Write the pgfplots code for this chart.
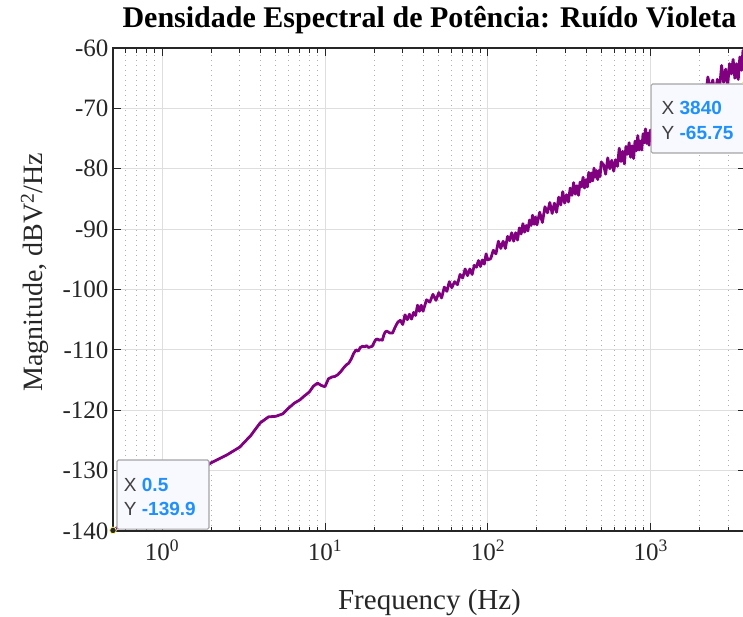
\documentclass[border=0pt]{standalone}
\usepackage{fontspec}
\setmainfont{Liberation Serif}
\newfontfamily\tipfont{Liberation Sans}
\usepackage{pgfplots}
\pgfplotsset{compat=1.18}
\definecolor{violeta}{RGB}{128,0,128}
\definecolor{tipblue}{RGB}{30,144,255}
\definecolor{tipgray}{RGB}{64,64,64}
\definecolor{axgray}{RGB}{38,38,38}
\definecolor{gridgray}{RGB}{222,222,222}
\definecolor{minorgray}{RGB}{175,175,175}
\definecolor{tipfill}{RGB}{248,248,255}
\definecolor{tipedge}{RGB}{165,165,165}
\begin{document}
\begin{tikzpicture}
\useasboundingbox (-113pt,-85pt) rectangle (630pt,531pt);
\begin{axis}[
  at={(0pt,0pt)}, anchor=south west,
  scale only axis, width=633pt, height=483pt,
  xmode=log, xmin=0.5, xmax=3840, ymin=-140, ymax=-60,
  ytick={-140,-130,-120,-110,-100,-90,-80,-70,-60},
  /pgf/number format/assume math mode=true,
  log number format basis/.code 2 args={#1\textsuperscript{\pgfmathprintnumber{#2}}},
  tick label style={font=\fontsize{25}{30}\selectfont, text=axgray},
  yticklabel style={xshift=-1pt},
  xticklabel style={yshift=-5pt},
  xmajorgrids, ymajorgrids, xminorgrids,
  major grid style={gridgray, line width=0.9pt},
  minor grid style={minorgray, line width=0.9pt, dash pattern=on 1pt off 4pt},
  tick align=inside, major tick length=8pt, minor tick length=4.5pt,
  every tick/.style={axgray, line width=0.9pt},
  axis line style={axgray, line width=1.1pt},
  title={Densidade Espectral de Potência: Ruído Violeta},
  title style={font=\bfseries\fontsize{30}{36}\selectfont, at={(axis description cs:0.5,1.029)}, anchor=base},
  xlabel={Frequency (Hz)},
  ylabel={Magnitude, dBV\textsuperscript{2}/Hz},
  label style={text=axgray},
  xlabel style={font=\fontsize{29}{34}\selectfont, at={(axis description cs:0.5,-0.149)}, anchor=center},
  ylabel style={font=\fontsize{28}{33}\selectfont, at={(axis description cs:-0.1232,0.536)}, anchor=center},
]
\addplot[violeta, line width=2.8pt, line join=round] coordinates {
(0.5,-139.9) (1,-134.5) (1.5,-131.0) (2,-128.7) (2.5,-127.4) (3,-126.1) (3.5,-124.2)
(4,-122.1) (4.5,-121.1) (5,-121.0) (5.5,-120.6) (6,-119.6) (6.5,-118.8) (7,-118.3)
(7.5,-117.6) (8,-117.0) (8.5,-116.0) (9,-115.5) (9.5,-115.9) (10,-116.1) (10.5,-114.8)
(11,-114.5) (11.5,-114.4) (12,-114.1) (12.5,-113.6) (13,-113.0) (13.5,-112.5) (14,-112.2)
(14.5,-111.5) (15,-110.6) (15.5,-110.0) (16,-110.2) (16.5,-109.6) (17,-109.4) (17.5,-109.5)
(18,-109.3) (18.5,-109.6) (19,-109.5) (19.5,-109.4) (20,-108.8) (20.5,-108.3) (21,-108.2)
(21.5,-108.4) (22,-108.3) (22.5,-108.4) (23,-107.5) (23.5,-107.0) (24,-106.9) (25,-107.2)
(26,-107.2) (27,-106.2) (28,-105.4)
(29,-105.1) (30,-105.8) (31,-104.2) (32,-105.0) (33,-104.1) (34,-104.9) (35,-103.8)
(36,-104.3) (37,-102.6) (38,-103.6) (39,-102.6) (40,-103.6) (42,-101.7) (44,-102.1)
(46,-100.8) (48,-101.8) (50,-100.5) (52,-101.4) (54,-99.6) (56,-100.3) (58,-98.7)
(60,-99.7) (62.5,-98.7) (65,-99.2) (67.5,-97.5) (70,-98.1) (72.5,-96.6) (75,-97.7)
(77.5,-96.6) (80,-97.5) (82.5,-96.0) (85,-96.3) (87.5,-95.2) (90,-96.2) (92.5,-95.1)
(95,-95.8) (97.5,-94.1) (100,-95.1)
(104,-94.9) (108,-93.5) (112,-94.1) (116,-92.0) (120,-93.2) (124,-92.0) (128,-93.2)
(132,-91.2) (136,-91.9) (140,-90.6) (144,-92.0) (148,-90.6) (152,-91.8) (156,-89.8)
(160,-90.8) (164,-89.1) (168,-90.5) (172,-89.4) (176,-90.3) (180,-88.5) (184,-89.4)
(188,-87.7) (192,-89.2) (196,-88.0) (200,-89.3)
(208,-87.2) (216,-88.9) (224,-86.3) (232,-87.3) (240,-85.6) (248,-87.4) (256,-85.7)
(264,-87.2) (272,-84.7) (280,-86.0) (288,-83.8) (296,-85.7) (304,-84.3) (312,-85.5)
(320,-83.2) (328,-84.4) (336,-82.3) (344,-84.2) (352,-82.8) (360,-84.4) (368,-82.2)
(376,-83.0) (384,-81.4) (392,-83.2) (400,-81.8) (408,-83.0) (416,-80.6) (424,-82.2)
(432,-80.7) (440,-82.0) (448,-79.9) (456,-81.4) (464,-80.3) (472,-81.8) (480,-80.3)
(488,-81.3) (496,-78.9)
(512,-79.3) (528,-80.9) (544,-78.2) (560,-80.0) (576,-78.6) (592,-80.4) (608,-78.5)
(624,-79.6) (640,-76.6) (656,-78.8) (672,-77.1) (688,-79.2) (704,-76.3) (720,-77.6)
(736,-75.7) (752,-78.1) (768,-76.2) (784,-78.3) (800,-75.4) (816,-77.0) (832,-74.5)
(848,-76.9) (864,-75.4) (880,-76.9) (896,-74.2) (912,-75.7) (928,-73.4) (944,-75.8)
(960,-74.1) (976,-76.1) (992,-73.6) (1000,-74.7)
(1040,-74.2) (1080,-71.7) (1120,-74.6) (1160,-72.2) (1200,-74.6) (1240,-70.9) (1280,-73.0)
(1320,-69.8) (1360,-72.7) (1400,-70.7) (1440,-72.6) (1480,-69.2) (1520,-71.0) (1560,-68.1)
(1600,-71.0) (1640,-68.9) (1680,-71.4) (1720,-68.3) (1760,-69.5) (1800,-67.2) (1840,-70.0)
(1880,-67.9) (1920,-69.8) (1960,-66.3) (2000,-68.8)
(2080,-66.1) (2160,-68.2) (2240,-64.8) (2320,-67.1) (2400,-65.3) (2480,-67.7) (2560,-65.2)
(2640,-66.7) (2720,-62.9) (2800,-65.7) (2880,-63.5) (2960,-66.3) (3040,-62.6) (3120,-64.3)
(3200,-61.9) (3280,-65.0) (3360,-62.6) (3440,-65.2) (3520,-61.5) (3600,-63.7) (3680,-60.4)
(3760,-63.5) (3840,-65.75)
};
% datatip boxes
\draw[tipedge, line width=1.1pt, fill=tipfill, rounded corners=1.5pt]
  (rel axis cs:0.0063,0.004) rectangle (rel axis cs:0.1517,0.147);
\draw[tipedge, line width=1.1pt, fill=tipfill, rounded corners=1.5pt]
  (rel axis cs:0.850,0.7826) rectangle (rel axis cs:1.05,0.9255);
\node[anchor=west, inner sep=0pt, font=\tipfont\fontsize{19}{22}\selectfont]
  at (rel axis cs:0.0170,0.095) {\textcolor{tipgray}{X} \textcolor{tipblue}{\bfseries 0.5}};
\node[anchor=west, inner sep=0pt, font=\tipfont\fontsize{19}{22}\selectfont]
  at (rel axis cs:0.0170,0.045) {\textcolor{tipgray}{Y} \textcolor{tipblue}{\bfseries -139.9}};
\node[anchor=west, inner sep=0pt, font=\tipfont\fontsize{19}{22}\selectfont]
  at (rel axis cs:0.8665,0.876) {\textcolor{tipgray}{X} \textcolor{tipblue}{\bfseries 3840}};
\node[anchor=west, inner sep=0pt, font=\tipfont\fontsize{19}{22}\selectfont]
  at (rel axis cs:0.8665,0.824) {\textcolor{tipgray}{Y} \textcolor{tipblue}{\bfseries -65.75}};
\addplot[only marks, mark=*, mark size=3.3pt, mark options={fill=black!85, draw=yellow!50!white, line width=0.8pt}, clip=false]
  coordinates {(0.5,-139.9) (3840,-65.75)};
\end{axis}
\end{tikzpicture}
\end{document}
